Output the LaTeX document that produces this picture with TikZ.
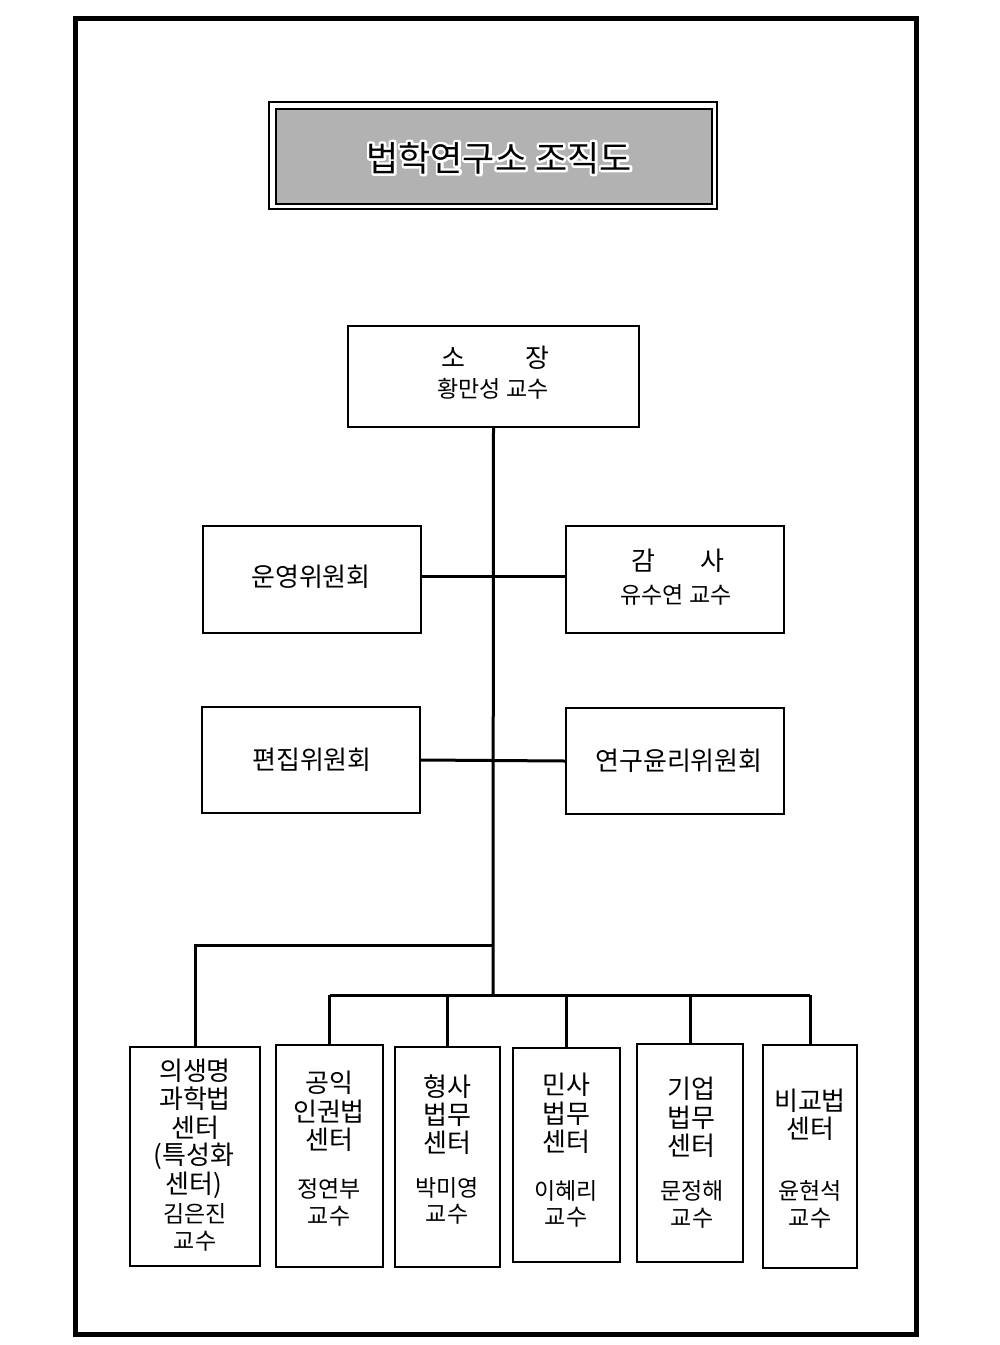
\documentclass[tikz,border=0pt]{standalone}
\usepackage{fontspec}
\setmainfont{Noto Sans CJK KR}
\newcommand{\halotext}[1]{\rlap{\special{pdf:literal direct 1 1 1 RG 5 w 1 j 2 Tr}#1\special{pdf:literal direct 0 Tr}}#1}
\begin{document}
\begin{tikzpicture}[x=1pt,y=-1pt,
  box/.style={draw, line width=2pt, inner sep=0pt, fill=white},
  conn/.style={line width=3pt},
  big/.style={font=\fontsize{26}{30}\selectfont, inner sep=0pt},
  small/.style={font=\fontsize{23}{26}\selectfont, inner sep=0pt},
  ttl/.style={font=\fontsize{35}{40}\selectfont, inner sep=0pt}]
\useasboundingbox (0,0) rectangle (1000,1345);
\fill[white] (0,0) rectangle (1000,1345);
\draw[line width=5pt] (75.5,18.5) rectangle (916,1334);

% title
\node[draw, line width=2pt, minimum width=448pt, minimum height=107pt, inner sep=0pt] (titleouter) at (493,155.5) {};
\node[draw, line width=1.5pt, fill=black!30, minimum width=436pt, minimum height=95pt, inner sep=0pt] (titleinner) at (494,156.5) {};
\node[ttl] (titletext) at (499,158) {\halotext{법학연구소 조직도}};

% boxes
\node[box, minimum width=291pt, minimum height=101pt] (sojang) at (493.5,376.5) {};
\node[big] (sojangA) at (453,358) {소};
\node[big] (sojangB) at (537,358) {장};
\node[small] (sojangN) at (493,389) {황만성 교수};

\node[box, minimum width=218pt, minimum height=107pt] (unyeong) at (312,579.5) {};
\node[big] (unyeongT) at (311,577) {운영위원회};
\node[box, minimum width=218pt, minimum height=107pt] (gamsa) at (675,579.5) {};
\node[big] (gamsaA) at (643,561) {감};
\node[big] (gamsaB) at (712,561) {사};
\node[small] (gamsaN) at (676,595) {유수연 교수};

\node[box, minimum width=218pt, minimum height=106pt] (pyeonjip) at (311,760) {};
\node[big] (pyeonjipT) at (312,760) {편집위원회};
\node[box, minimum width=218pt, minimum height=106pt] (yeongu) at (675,761) {};
\node[big] (yeonguT) at (679,761) {연구윤리위원회};

% bottom boxes
\node[box, minimum width=130pt, minimum height=219pt] (b1) at (195,1156.5) {};
\node[big] (b1a) at (195,1071) {의생명};
\node[big] (b1b) at (195,1099) {과학법};
\node[big] (b1c) at (195,1128) {센터};
\node[big] (b1d) at (194,1156) {(특성화};
\node[big] (b1e) at (194,1185) {센터)};
\node[small] (b1f) at (195,1214) {김은진};
\node[small] (b1g) at (195,1241) {교수};

\node[box, minimum width=107pt, minimum height=222pt] (b2) at (329.5,1156) {};
\node[big] (b2a) at (329,1083) {공익};
\node[big] (b2b) at (329,1112) {인권법};
\node[big] (b2c) at (329,1140) {센터};
\node[small] (b2d) at (329,1189) {정연부};
\node[small] (b2e) at (329,1216) {교수};

\node[box, minimum width=105pt, minimum height=220pt] (b3) at (447.5,1157) {};
\node[big] (b3a) at (447,1087) {형사};
\node[big] (b3b) at (447,1115) {법무};
\node[big] (b3c) at (447,1143) {센터};
\node[small] (b3d) at (447,1188) {박미영};
\node[small] (b3e) at (447,1214) {교수};

\node[box, minimum width=107pt, minimum height=214pt] (b4) at (566.5,1155) {};
\node[big] (b4a) at (566,1085) {민사};
\node[big] (b4b) at (566,1114) {법무};
\node[big] (b4c) at (566,1142) {센터};
\node[small] (b4d) at (566,1191) {이혜리};
\node[small] (b4e) at (566,1217) {교수};

\node[box, minimum width=106pt, minimum height=218pt] (b5) at (690,1153) {};
\node[big] (b5a) at (691,1089) {기업};
\node[big] (b5b) at (691,1118) {법무};
\node[big] (b5c) at (691,1146) {센터};
\node[small] (b5d) at (692,1191) {문정해};
\node[small] (b5e) at (692,1218) {교수};

\node[box, minimum width=94pt, minimum height=223pt] (b6) at (810,1156.5) {};
\node[big] (b6a) at (810,1101) {비교법};
\node[big] (b6b) at (810,1129) {센터};
\node[small] (b6c) at (810,1191) {윤현석};
\node[small] (b6d) at (810,1218) {교수};

% connectors
\coordinate (j1) at (493,945);
\coordinate (j2) at (493,995);
\draw[conn] (sojang.south) -- (j2);
\draw[conn] ([yshift=3.5pt]unyeong.east) -- ([yshift=3.5pt]gamsa.west);
\draw[conn] (pyeonjip.east) -- (yeongu.west);
\draw[conn] (j1) -| (b1.north);
\draw[conn] (b2.north |- j2) -- (b6.north |- j2);
\foreach \b in {b2,b3,b4,b5,b6} {
  \draw[conn] (\b.north |- j2) -- (\b.north);
}
\end{tikzpicture}
\end{document}
